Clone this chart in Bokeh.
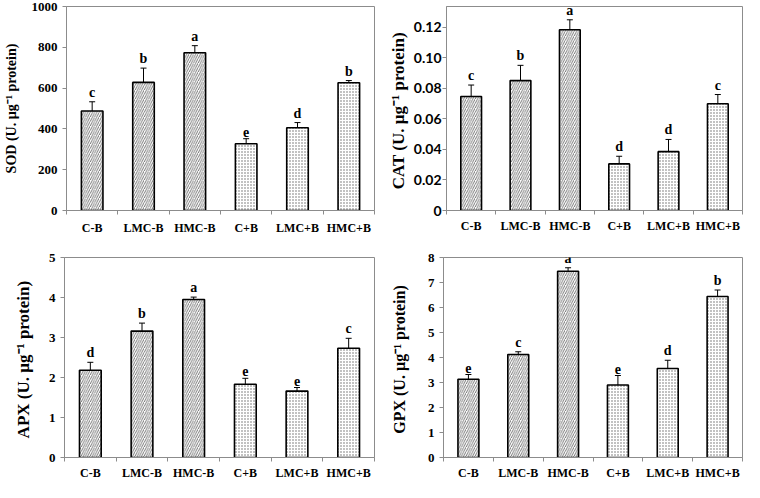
from bokeh.plotting import figure
from bokeh.models import ColumnDataSource, Range1d, FixedTicker, Whisker, LabelSet
from bokeh.layouts import column, row
from bokeh.core.properties import value
from bokeh.embed import file_html
from bokeh.resources import INLINE

categories = ["C-B", "LMC-B", "HMC-B", "C+B", "LMC+B", "HMC+B"]

sod_values = [488, 628, 773, 327, 406, 626]
sod_errors = [45, 70, 35, 25, 25, 11]
sod_letters = ["c", "b", "a", "e", "d", "b"]
sod_ticks = [0, 200, 400, 600, 800, 1000]
sod_tick_labels = ["0", "200", "400", "600", "800", "1000"]

cat_values = [0.0746, 0.0850, 0.1183, 0.0305, 0.0385, 0.0699]
cat_errors = [0.0075, 0.0100, 0.0065, 0.0050, 0.0080, 0.0060]
cat_letters = ["c", "b", "a", "d", "d", "c"]
cat_ticks = [0, 0.02, 0.04, 0.06, 0.08, 0.10, 0.12]
cat_tick_labels = ["0", "0.02", "0.04", "0.06", "0.08", "0.10", "0.12"]

apx_values = [2.18, 3.16, 3.95, 1.83, 1.66, 2.73]
apx_errors = [0.20, 0.20, 0.06, 0.15, 0.09, 0.25]
apx_letters = ["d", "b", "a", "e", "e", "c"]
apx_ticks = [0, 1, 2, 3, 4, 5]
apx_tick_labels = ["0", "1", "2", "3", "4", "5"]

gpx_values = [3.13, 4.12, 7.45, 2.90, 3.56, 6.44]
gpx_errors = [0.19, 0.11, 0.14, 0.38, 0.33, 0.26]
gpx_letters = ["e", "c", "a", "e", "d", "b"]
gpx_ticks = [0, 1, 2, 3, 4, 5, 6, 7, 8]
gpx_tick_labels = ["0", "1", "2", "3", "4", "5", "6", "7", "8"]

SERIF = "Liberation Serif"
GRAY = "#8c8c8c"


def panel(values, errors, letters, ymax, ticks, tick_labels, ylabel, lab_stand,
          lab_size, tick_font, tick_size, tick_stand, width, height, bl, bt, bb, br, xstand):
    n = len(categories)
    x = [i + 0.5 for i in range(n)]
    upper = [v + e for v, e in zip(values, errors)]
    lower = [v - e for v, e in zip(values, errors)]
    src = ColumnDataSource(dict(x=x, top=values, upper=upper, lower=lower, letter=letters))
    src_minus = ColumnDataSource(dict(x=x[:3], top=values[:3]))
    src_plus = ColumnDataSource(dict(x=x[3:], top=values[3:]))

    p = figure(width=width, height=height, x_range=Range1d(0, n), y_range=Range1d(0, ymax),
               output_backend="svg", toolbar_location=None,
               min_border_left=bl, min_border_right=br, min_border_top=bt, min_border_bottom=bb)
    p.xgrid.visible = False
    p.ygrid.visible = False
    p.outline_line_color = GRAY
    p.outline_line_width = 1
    p.background_fill_color = "white"
    p.border_fill_color = "white"

    p.vbar(x="x", top="top", width=0.42, source=src_minus, fill_color="white",
           line_color="black", line_width=1.6, hatch_pattern="/", hatch_scale=4.5,
           hatch_weight=0.8, hatch_color="#555555")
    p.vbar(x="x", top="top", width=0.42, source=src_plus, fill_color="white",
           line_color="black", line_width=1.6, hatch_pattern=".", hatch_scale=3,
           hatch_weight=0.8, hatch_color="#666666")

    w = Whisker(source=src, base="x", upper="upper", lower="lower",
                line_color="black", line_width=1)
    w.upper_head.size = 6
    w.lower_head.size = 6
    w.upper_head.line_color = "black"
    w.lower_head.line_color = "black"
    p.add_layout(w)

    ls = LabelSet(x="x", y="upper", text="letter", source=src, text_align="center",
                  text_baseline="bottom", y_offset=2, text_font=value(SERIF),
                  text_font_style="bold", text_font_size="14px", text_color="black")
    p.add_layout(ls)

    xa = p.xaxis[0]
    xa.ticker = FixedTicker(ticks=x, minor_ticks=list(range(n + 1)))
    xa.major_label_overrides = {xi: c for xi, c in zip(x, categories)}
    xa.major_tick_out = 0
    xa.major_tick_in = 0
    xa.minor_tick_out = 4
    xa.minor_tick_in = 0
    xa.minor_tick_line_color = GRAY
    xa.axis_line_color = GRAY
    xa.major_label_text_font = SERIF
    xa.major_label_text_font_style = "bold"
    xa.major_label_text_font_size = "12px"
    xa.major_label_text_color = "black"
    xa.major_label_standoff = xstand

    ya = p.yaxis[0]
    ya.ticker = FixedTicker(ticks=ticks)
    ya.major_label_overrides = {t: s for t, s in zip(ticks, tick_labels)}
    ya.major_tick_out = 4
    ya.major_tick_in = 0
    ya.minor_tick_line_color = None
    ya.major_tick_line_color = GRAY
    ya.axis_line_color = GRAY
    ya.major_label_text_font = tick_font
    ya.major_label_text_font_style = "bold"
    ya.major_label_text_font_size = tick_size
    ya.major_label_text_color = "black"
    ya.major_label_standoff = tick_stand
    ya.axis_label = ylabel
    ya.axis_label_text_font = SERIF
    ya.axis_label_text_font_style = "bold"
    ya.axis_label_text_font_size = lab_size
    ya.axis_label_text_color = "black"
    ya.axis_label_standoff = lab_stand
    return p


p1 = panel(sod_values, sod_errors, sod_letters, 1000, sod_ticks, sod_tick_labels,
           "SOD (U. µg⁻¹ protein)", 10, "14px", SERIF, "13px", 5,
           376, 240, 65, 4, 30, 2, 6)
p2 = panel(cat_values, cat_errors, cat_letters, 0.1335, cat_ticks, cat_tick_labels,
           "CAT (U. µg⁻¹  protein)", 3, "17px", "Lato", "14px", 1,
           368, 240, 70, 6, 28, 2, 4)
p3 = panel(apx_values, apx_errors, apx_letters, 5, apx_ticks, apx_tick_labels,
           "APX (U.  µg⁻¹ protein)", 13, "17px", SERIF, "13px", 5,
           376, 242, 64, 16, 20, 2, 4)
p4 = panel(gpx_values, gpx_errors, gpx_letters, 8, gpx_ticks, gpx_tick_labels,
           "GPX (U. µg⁻¹  protein)", 17, "16px", SERIF, "13px", 5,
           368, 242, 67, 17, 19, 2, 4)

layout = column(row(p1, p2), row(p3, p4))
open("out.html", "w").write(file_html(layout, INLINE))
